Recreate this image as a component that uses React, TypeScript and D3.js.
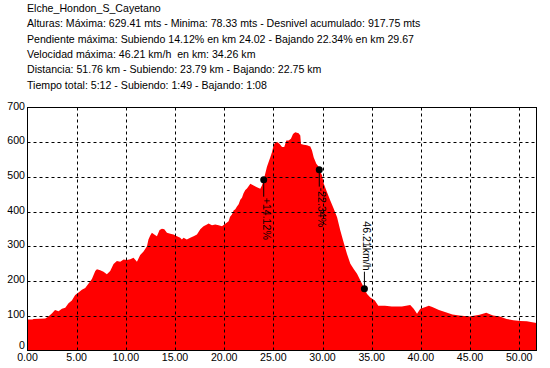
import { useEffect, useRef } from "react";
import * as d3 from "d3";

// header texts
const infoLines = [
  "Elche_Hondon_S_Cayetano",
  "Alturas: Máxima: 629.41 mts - Minima: 78.33 mts - Desnivel acumulado: 917.75 mts",
  "Pendiente máxima: Subiendo 14.12% en km 24.02 - Bajando 22.34% en km 29.67",
  "Velocidad máxima: 46.21 km/h  en km: 34.26 km",
  "Distancia: 51.76 km - Subiendo: 23.79 km - Bajando: 22.75 km",
  "Tiempo total: 5:12 - Subiendo: 1:49 - Bajando: 1:08",
];

// profile (km, metres)
const km = [
  0, 0.5, 0.6, 1.8, 2.1, 2.5, 2.8, 3.16, 3.5, 3.84, 4.17, 4.51, 4.85, 5.19, 5.53,
  5.87, 6.21, 6.55, 6.89, 7.06, 7.4, 7.73, 8.07, 8.41, 8.75, 9.09, 9.43, 9.77,
  10.1, 10.45, 10.78, 11.13, 11.46, 11.8, 12.15, 12.3, 12.48, 12.65, 12.89, 13.16,
  13.43, 13.67, 13.91, 14.18, 14.52, 14.85, 15.2, 15.53, 15.7, 15.87, 16.2, 16.55,
  16.89, 17.23, 17.57, 17.9, 18.25, 18.41, 18.76, 19.09, 19.43, 19.78, 20.11,
  20.45, 20.6, 20.79, 20.96, 21.13, 21.3, 21.47, 21.64, 21.81, 21.97, 22.15, 22.32,
  22.66, 22.99, 23.33, 23.67, 23.84, 24.02, 24.18, 24.35, 24.52, 24.69, 24.86,
  25.03, 25.2, 25.43, 25.64, 25.88, 26.11, 26.32, 26.55, 26.79, 27.0, 27.23, 27.57,
  27.74, 27.81, 28.08, 28.42, 28.76, 28.93, 29.1, 29.37, 29.61, 29.67, 29.95,
  30.12, 30.46, 30.79, 31.13, 31.48, 31.81, 32.15, 32.49, 32.83, 33.17, 33.51,
  33.85, 34.26, 34.53, 34.86, 35.32, 35.67, 36.35, 37.04, 38.07, 38.92, 39.27,
  39.61, 39.95, 40.47, 40.81, 41.16, 41.84, 42.53, 43.21, 43.91, 44.93, 45.97,
  46.65, 47.34, 48.03, 48.72, 49.4, 50.09, 50.77, 51.76,
];
const elevation = [
  89, 89, 91, 92, 97, 107, 117, 113, 120, 123, 136, 144, 160, 167, 175,
  180, 193, 206, 229, 234, 231, 227, 220, 229, 249, 258, 256, 262,
  261, 263, 267, 256, 275, 285, 300, 320, 331, 339, 334, 329,
  347, 351, 349, 339, 336, 334, 329, 325, 320, 325, 320, 325,
  329, 334, 349, 358, 363, 366, 361, 363, 361, 358, 365,
  372, 385, 392, 403, 407, 415, 421, 434, 440, 453, 462, 467,
  480, 475, 470, 466, 475, 492, 510, 529, 543, 557, 571,
  591, 600, 600, 595, 586, 586, 605, 605, 610, 624, 629, 626,
  619, 595, 593, 591, 588, 576, 557, 538, 529, 521, 505,
  481, 456, 432, 409, 384, 346, 311, 278, 250, 235, 221,
  202, 178, 163, 153, 144, 129, 129, 127, 127, 131, 120,
  106, 120, 125, 129, 125, 117, 110, 104, 101, 98, 103,
  109, 101, 98, 91, 87, 85, 84, 79,
];

const xTicks = [0, 5, 10, 15, 20, 25, 30, 35, 40, 45, 50];
const yTicks = [0, 100, 200, 300, 400, 500, 600, 700];

// max slope / max speed markers
const markerKm = [24.02, 29.67, 34.26];
const markerElev = [492, 521, 178];
const markerText = ["+14.12%", "-22.34%", "46.21km/h"];
const markerUp = [false, false, true];

const FONT = "'Liberation Sans', Arial, sans-serif";

export default function App() {
  const svgRef = useRef<SVGSVGElement>(null);

  useEffect(() => {
    if (!svgRef.current) return;
    const svg = d3.select(svgRef.current);
    svg.selectAll("*").remove();

    const left = 27.5;
    const right = 536.5;
    const top = 107.5;
    const bottom = 350.5;

    const x = d3.scaleLinear().domain([0, 51.76]).range([left, right]);
    const y = d3.scaleLinear().domain([0, 700]).range([bottom, top]);

    svg.append("rect").attr("width", 550).attr("height", 368).attr("fill", "#fff");

    // header
    svg
      .append("g")
      .selectAll("text")
      .data(infoLines)
      .join("text")
      .attr("x", 27)
      .attr("y", (_, i) => 12 + i * 15.3)
      .attr("font-family", FONT)
      .attr("font-size", "10.6px")
      .attr("fill", "#000")
      .style("white-space", "pre")
      .text((d) => d);

    // profile area
    const data = km.map((k, i) => ({ k, e: elevation[i] }));
    const area = d3
      .area<{ k: number; e: number }>()
      .x((d) => x(d.k))
      .y0(y(0))
      .y1((d) => y(d.e));
    svg.append("path").datum(data).attr("d", area).attr("fill", "#ff0000");

    // dashed grid
    const grid = svg.append("g").attr("stroke", "#000").attr("stroke-width", 1).attr("stroke-dasharray", "3,3");
    xTicks
      .filter((t) => t > 0)
      .forEach((t) => {
        grid
          .append("line")
          .attr("x1", Math.round(x(t)) + 0.5)
          .attr("x2", Math.round(x(t)) + 0.5)
          .attr("y1", top)
          .attr("y2", bottom);
      });
    yTicks
      .filter((t) => t > 0 && t < 700)
      .forEach((t) => {
        grid
          .append("line")
          .attr("x1", left)
          .attr("x2", right)
          .attr("y1", Math.round(y(t)) + 0.5)
          .attr("y2", Math.round(y(t)) + 0.5);
      });

    // frame
    svg
      .append("rect")
      .attr("x", left)
      .attr("y", top)
      .attr("width", right - left)
      .attr("height", bottom - top)
      .attr("fill", "none")
      .attr("stroke", "#000")
      .attr("stroke-width", 1);

    // axis labels
    svg
      .append("g")
      .selectAll("text")
      .data(yTicks)
      .join("text")
      .attr("x", 25)
      .attr("y", (d) => (d === 0 ? y(d) - 2 : y(d) + 2))
      .attr("text-anchor", "end")
      .attr("font-family", FONT)
      .attr("font-size", "10.6px")
      .text((d) => d);

    svg
      .append("g")
      .selectAll("text")
      .data(xTicks)
      .join("text")
      .attr("x", (d) => x(d))
      .attr("y", 361)
      .attr("text-anchor", "middle")
      .attr("font-family", FONT)
      .attr("font-size", "10.6px")
      .text((d) => d.toFixed(2));

    // markers
    markerKm.forEach((k, i) => {
      const cx = x(k);
      const cy = y(markerElev[i]);
      const dir = markerUp[i] ? -1 : 1;
      const y2 = cy + dir * 17;
      svg
        .append("line")
        .attr("x1", cx)
        .attr("x2", cx)
        .attr("y1", cy)
        .attr("y2", y2)
        .attr("stroke", "#000")
        .attr("stroke-width", 1);
      svg
        .append("circle")
        .attr("cx", cx)
        .attr("cy", cy)
        .attr("r", 3.5)
        .attr("fill", "#000");
      svg
        .append("text")
        .attr("transform", `translate(${cx - 1},${y2 + dir * 1}) rotate(90)`)
        .attr("text-anchor", markerUp[i] ? "end" : "start")
        .attr("font-family", FONT)
        .attr("font-size", "10.6px")
        .text(markerText[i]);
    });
  }, []);

  return (
    <svg
      ref={svgRef}
      width={550}
      height={368}
      style={{ position: "absolute", left: 0, top: 0 }}
    ></svg>
  );
}
